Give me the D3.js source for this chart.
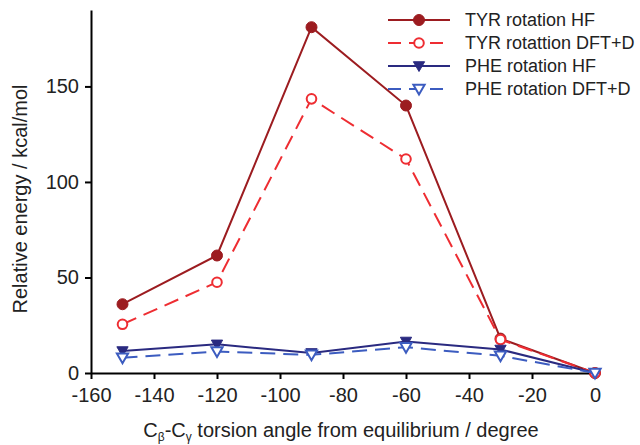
<!DOCTYPE html>
<html>
<head>
<meta charset="utf-8">
<script src="https://cdn.jsdelivr.net/npm/d3@7"></script>
<style>
  body { margin: 0; background: #fff; }
  svg { font-family: "Liberation Sans", Arial, sans-serif; }
  .axis path, .axis line { stroke: #000; stroke-width: 2; }
  .axis text { font-size: 20px; fill: #222; }
</style>
</head>
<body>
<svg width="640" height="445"></svg>
<script>
// torsion angles (degree)
var angles = [-150, -120, -90, -60, -30, 0];
var tyrHF = [36, 61.5, 181, 140, 18, 0];
var tyrDFT = [25.5, 47.5, 143.5, 112, 17.5, 0];
var pheHF = [11.5, 15, 10.5, 16.5, 12.3, 0];
var pheDFT = [8, 11.2, 9.5, 13.5, 9, 0];
var seriesNames = ["TYR rotation HF", "TYR rotattion DFT+D", "PHE rotation HF", "PHE rotation DFT+D"];
var xTicks = [-160, -140, -120, -100, -80, -60, -40, -20, 0];
var yTicks = [0, 50, 100, 150];

var series = [
  {name: seriesNames[0], values: tyrHF, color: "#9c1c20", dash: null, shape: "circle", filled: true},
  {name: seriesNames[1], values: tyrDFT, color: "#ee2d32", dash: "15,8", shape: "circle", filled: false},
  {name: seriesNames[2], values: pheHF, color: "#2a2a80", dash: null, shape: "tri", filled: true},
  {name: seriesNames[3], values: pheDFT, color: "#3c5cc0", dash: "15,8", shape: "tri", filled: false}
];

var svg = d3.select("svg");

var x = d3.scaleLinear().domain([-160, 0]).range([91, 595]);
var y = d3.scaleLinear().domain([0, 190]).range([373, 10]);

var fmt = function(d) { return String(d); };

svg.append("g")
    .attr("class", "axis")
    .attr("transform", "translate(0,373)")
    .call(d3.axisBottom(x).tickValues(xTicks).tickFormat(fmt).tickSize(6).tickSizeOuter(0).tickPadding(8))
    .selectAll("text").attr("dy", "0.75em");

svg.append("g")
    .attr("class", "axis")
    .attr("transform", "translate(91,0)")
    .call(d3.axisLeft(y).tickValues(yTicks).tickFormat(fmt).tickSize(6).tickSizeOuter(0).tickPadding(6));

var line = d3.line()
    .x(function(d, i) { return x(angles[i]); })
    .y(function(d) { return y(d); });

var tri = d3.symbol().type(d3.symbolTriangle).size(55);

function marker(g, s, cx, cy) {
  if (s.shape == "circle") {
    g.append("circle")
      .attr("cx", cx).attr("cy", cy).attr("r", s.filled ? 5.5 : 4.8)
      .attr("fill", s.filled ? s.color : "#fff")
      .attr("stroke", s.color).attr("stroke-width", s.filled ? 1 : 2);
  } else {
    g.append("path")
      .attr("d", tri)
      .attr("transform", "translate(" + cx + "," + (cy - 1) + ") rotate(180)")
      .attr("fill", s.filled ? s.color : "#fff")
      .attr("stroke", s.color).attr("stroke-width", s.filled ? 1 : 2);
  }
}

series.forEach(function(s) {
  var g = svg.append("g");
  g.append("path")
    .datum(s.values)
    .attr("d", line)
    .attr("fill", "none")
    .attr("stroke", s.color)
    .attr("stroke-width", 2)
    .attr("stroke-dasharray", s.dash);
  s.values.forEach(function(v, i) {
    marker(g, s, x(angles[i]), y(v));
  });
});

// legend
var leg = svg.append("g");
series.forEach(function(s, i) {
  var ly = 20 + i * 23;
  leg.append("line")
    .attr("x1", 388).attr("x2", 450).attr("y1", ly).attr("y2", ly)
    .attr("stroke", s.color).attr("stroke-width", 2)
    .attr("stroke-dasharray", s.dash ? "13,8" : null);
  marker(leg, s, 419, ly);
  leg.append("text")
    .attr("x", 465).attr("y", ly).attr("dy", "0.35em")
    .attr("font-size", 18).attr("fill", "#222")
    .text(s.name);
});

// axis titles
svg.append("text")
    .attr("transform", "translate(27,199) rotate(-90)")
    .attr("text-anchor", "middle")
    .attr("font-size", 20).attr("fill", "#222")
    .text("Relative energy / kcal/mol");

var xt = svg.append("text")
    .attr("x", 341).attr("y", 437)
    .attr("text-anchor", "middle")
    .attr("font-size", 20).attr("fill", "#222");
xt.append("tspan").text("C");
xt.append("tspan").attr("font-size", 12).attr("dy", 4).text("\u03b2");
xt.append("tspan").attr("dy", -4).text("-C");
xt.append("tspan").attr("font-size", 12).attr("dy", 4).text("\u03b3");
xt.append("tspan").attr("dy", -4).text(" torsion angle from equilibrium / degree");
</script>
</body>
</html>
